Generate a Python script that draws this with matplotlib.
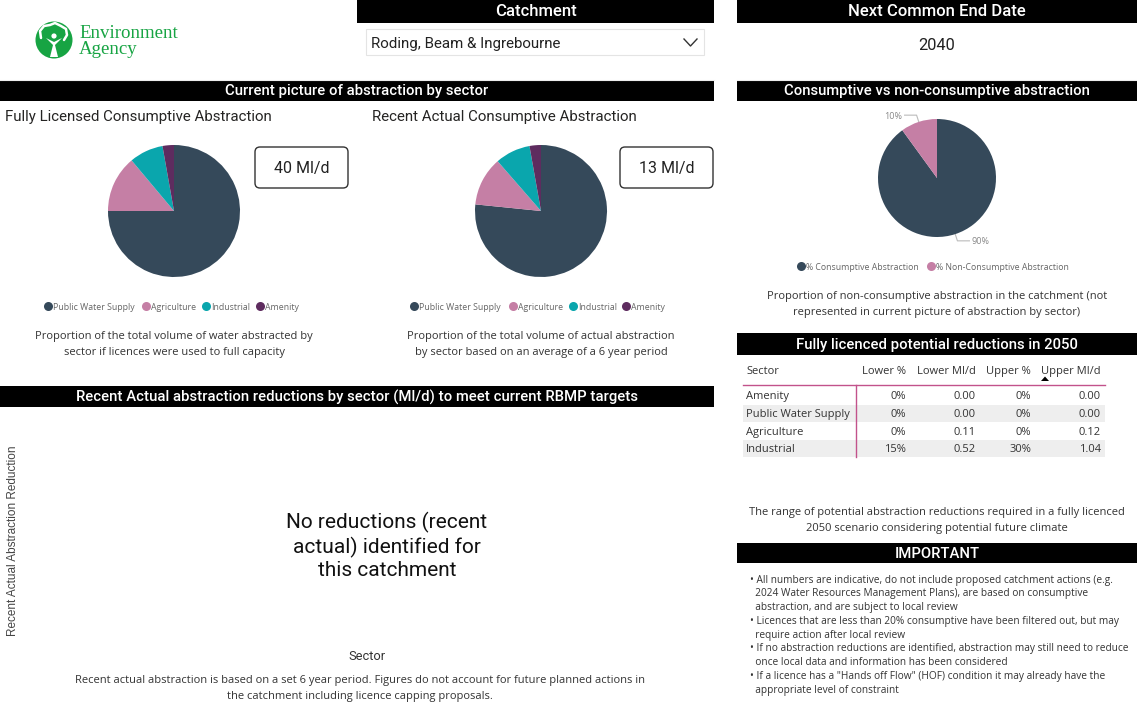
import numpy as np
import matplotlib
matplotlib.use('Agg')
import matplotlib.pyplot as plt
from matplotlib.patches import Rectangle, FancyBboxPatch, Circle, Polygon

catchment = 'Roding, Beam & Ingrebourne'
end_date = '2040'
sectors = ['Public Water Supply', 'Agriculture', 'Industrial', 'Amenity']
sector_colors = ['#35495A', '#C57FA5', '#0AA6AD', '#5E2C5F']
licensed_share = [75.0, 13.9, 8.3, 2.8]
actual_share = [76.6, 12.0, 8.6, 2.8]
licensed_total = '40 Ml/d'
actual_total = '13 Ml/d'
cons_labels = ['% Consumptive Abstraction', '% Non-Consumptive Abstraction']
cons_share = [90, 10]
cons_colors = ['#35495A', '#C57FA5']

table_cols = ['Sector', 'Lower %', 'Lower Ml/d', 'Upper %', 'Upper Ml/d']
table_sectors = ['Amenity', 'Public Water Supply', 'Agriculture', 'Industrial']
lower_pct = [0, 0, 0, 15]
lower_mld = [0.00, 0.00, 0.11, 0.52]
upper_pct = [0, 0, 0, 30]
upper_mld = [0.00, 0.00, 0.12, 1.04]

important_lines = [
    '• All numbers are indicative, do not include proposed catchment actions (e.g.',
    '  2024 Water Resources Management Plans), are based on consumptive',
    '  abstraction, and are subject to local review',
    '• Licences that are less than 20% consumptive have been filtered out, but may',
    '  require action after local review',
    '• If no abstraction reductions are identified, abstraction may still need to reduce',
    '  once local data and information has been considered',
    '• If a licence has a "Hands off Flow" (HOF) condition it may already have the',
    '  appropriate level of constraint',
]

W, H = 1137, 720
HEAD = 'Roboto'
BODY = 'Open Sans'

fig = plt.figure(figsize=(W / 100, H / 100), dpi=100)
ax = fig.add_axes([0, 0, 1, 1])
ax.set_xlim(0, W)
ax.set_ylim(H, 0)
ax.axis('off')


def header(x0, x1, y0, y1, text, size=10.7):
    ax.add_patch(Rectangle((x0, y0), x1 - x0, y1 - y0, color='black', lw=0))
    ax.text((x0 + x1) / 2, (y0 + y1) / 2 + 0.5, text, color='white', fontsize=size,
            family=HEAD, weight='medium', ha='center', va='center')


def body(x, y, text, size=8, color='#333333', ha='center', **kw):
    # small downward nudge so the visual centre sits on y
    ax.text(x, y + 1.5, text, fontsize=size, family=BODY, color=color, ha=ha, va='center', **kw)


# logo
ax.add_patch(Circle((54, 40), 18.5, color='#17A443', lw=0))
canopy = [(41, 38), (40, 31), (44, 26), (50, 25), (55, 23), (61, 26), (66, 29), (67, 35), (64, 40)]
ax.plot(*zip(*canopy), color='white', lw=1.8, solid_capstyle='round')
ax.add_patch(Polygon([(46, 38), (53, 45), (50, 57), (58, 57), (55, 45), (62, 38), (54, 42)],
                     closed=True, color='white', lw=0))
ax.add_patch(Circle((54, 36), 2.6, color='white', lw=0))
ax.text(79, 33, 'Environment', family='Liberation Serif', fontsize=13.6, color='#17A443', va='center')
ax.text(79, 50, 'Agency', family='Liberation Serif', fontsize=13.6, color='#17A443', va='center')
ax.plot([0, 714], [79.5, 79.5], color='#EEEEEE', lw=0.8)
ax.plot([737, W], [79.5, 79.5], color='#EEEEEE', lw=0.8)

# slicer and end date
header(357, 714, 0, 23, 'Catchment', 12)
ax.add_patch(Rectangle((366, 29), 338, 26, fill=False, ec='#E4E4E4', lw=0.8))
ax.text(371, 44, catchment, family=HEAD, fontsize=10.9, color='#222222', va='center')
ax.plot([684, 690.5, 697], [39, 46, 39], color='#333333', lw=1)
header(737, W, 0, 23, 'Next Common End Date', 12)
ax.text(937, 45, end_date, family=HEAD, fontsize=11.8, color='#222222', ha='center', va='center')

# section headers
header(0, 714, 80, 101, 'Current picture of abstraction by sector')
header(737, W, 80, 101, 'Consumptive vs non-consumptive abstraction')
header(737, W, 333, 355, 'Fully licenced potential reductions in 2050')
header(0, 714, 386, 407, 'Recent Actual abstraction reductions by sector (Ml/d) to meet current RBMP targets')
header(737, W, 543, 563, 'IMPORTANT')


def pie_axes(cx, cy, r):
    return fig.add_axes([(cx - r) / W, 1 - (cy + r) / H, 2 * r / W, 2 * r / H])


def fix_pie(pa):
    pa.set_xlim(-1, 1)
    pa.set_ylim(-1, 1)
    pa.axis('off')


def sector_pie(cx, title_x, title, shares, total, box_x, legend_x, caption):
    ax.text(title_x, 117, title, family=HEAD, fontsize=10.8, color='#252423', va='center')
    pa = pie_axes(cx, 211, 66)
    pa.pie(shares, colors=sector_colors, startangle=90, counterclock=False, radius=1,
           wedgeprops=dict(lw=0))
    fix_pie(pa)
    ax.add_patch(FancyBboxPatch((box_x, 147), 93, 41, boxstyle='round,pad=0,rounding_size=5',
                                fill=False, ec='#333333', lw=1))
    ax.text(box_x + 46.5, 169, total, family=HEAD, fontsize=11.5, color='#222222', ha='center', va='center')
    for lx, name, col in zip(legend_x, sectors, sector_colors):
        ax.plot(lx, 306, 'o', ms=6.5, color=col, mec='none')
        ax.text(lx + 5, 307, name, family=BODY, fontsize=6.3, color='#666666', va='center')
    body(cx, 335, caption[0], 8.0)
    body(cx, 351, caption[1], 8.0)


sector_pie(174, 5, 'Fully Licensed Consumptive Abstraction', licensed_share, licensed_total, 255,
           [48, 146, 206, 260],
           ['Proportion of the total volume of water abstracted by',
            'sector if licences were used to full capacity'])
sector_pie(541, 372, 'Recent Actual Consumptive Abstraction', actual_share, actual_total, 620,
           [414, 513, 573, 626],
           ['Proportion of the total volume of actual abstraction',
            'by sector based on an average of a 6 year period'])

# consumptive vs non-consumptive pie
ccx, ccy, cr = 937, 178, 59
pc = pie_axes(ccx, ccy, cr)
wedges, _ = pc.pie(cons_share, colors=cons_colors, startangle=90, counterclock=False,
                   radius=1, wedgeprops=dict(lw=0))
fix_pie(pc)
for w, share in zip(wedges, cons_share):
    mid = np.deg2rad((w.theta1 + w.theta2) / 2)
    ex, ey = ccx + cr * np.cos(mid), ccy - cr * np.sin(mid)
    bx, by = ccx + 1.12 * cr * np.cos(mid), ccy - 1.12 * cr * np.sin(mid)
    side = 1 if np.cos(mid) > 0 else -1
    tx = bx + side * 12
    ax.plot([ex, bx, tx], [ey, by, by], color='#BBBBBB', lw=0.8)
    ax.text(tx + side * 2, by + 1, f'{share}%', family=BODY, fontsize=6.5, color='#888888',
            ha='left' if side > 0 else 'right', va='center')
for lx, name, col in zip([801, 931], cons_labels, cons_colors):
    ax.plot(lx, 266, 'o', ms=6.5, color=col, mec='none')
    ax.text(lx + 5, 267, name, family=BODY, fontsize=6.3, color='#666666', va='center')
body(937, 295, 'Proportion of non-consumptive abstraction in the catchment (not', 8.0)
body(937, 311, 'represented in current picture of abstraction by sector)', 8.0)

# reductions table
col_right = [None, 906, 976, 1031, 1101]
row_y = [395, 413, 431, 448]
TS = 8.0
for name, rx in zip(table_cols, col_right):
    if rx is None:
        body(746, 370, name, TS, '#333333', ha='left')
    else:
        body(rx, 370, name, TS, '#333333', ha='right')
ax.add_patch(Polygon([(1041, 381), (1049, 381), (1045, 376.5)], closed=True, color='black', lw=0))
for i, y in enumerate(row_y):
    if i % 2 == 1:
        ax.add_patch(Rectangle((743, y - 8.3), 362, 17.6, color='#EEEEEE', lw=0))
    body(746, y, table_sectors[i], TS, '#333333', ha='left')
    body(906, y, f'{lower_pct[i]}%', TS, '#333333', ha='right')
    body(976, y, f'{lower_mld[i]:.2f}', TS, '#333333', ha='right')
    body(1031, y, f'{upper_pct[i]}%', TS, '#333333', ha='right')
    body(1101, y, f'{upper_mld[i]:.2f}', TS, '#333333', ha='right')
ax.plot([743, 1105], [385, 385], color='#C2528B', lw=1)
ax.plot([856, 856], [385, 457], color='#C2528B', lw=1)
body(937, 511, 'The range of potential abstraction reductions required in a fully licenced', 8.0)
body(937, 527, '2050 scenario considering potential future climate', 8.0)

# important notes
for i, line in enumerate(important_lines):
    body(750, 578.5 + i * 13.8, line, 7.25, '#333333', ha='left')

# empty reductions chart
ax.text(13, 541, 'Recent Actual Abstraction Reduction', family='Liberation Sans', fontsize=8.5,
        color='#444444', rotation=90, ha='center', va='center')
ax.text(387, 546, 'No reductions (recent\nactual) identified for\nthis catchment', family=HEAD,
        fontsize=15, color='#111111', ha='center', va='center', linespacing=1.2)
ax.text(367, 656, 'Sector', family=HEAD, fontsize=9.3, color='#333333', ha='center', va='center')
body(360, 679, 'Recent actual abstraction is based on a set 6 year period. Figures do not account for future planned actions in', 8.0)
body(360, 695, 'the catchment including licence capping proposals.', 8.0)

fig.savefig('out.png', dpi=100)
